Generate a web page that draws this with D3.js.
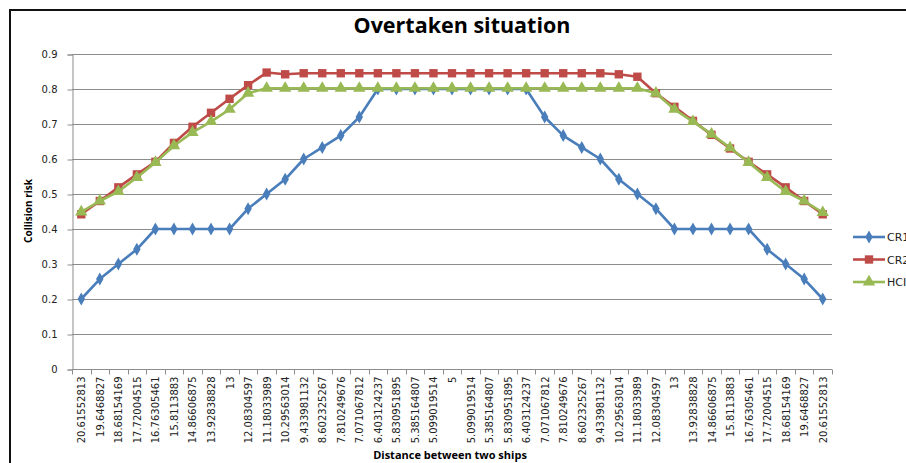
<!DOCTYPE html>
<html>
<head>
<meta charset="utf-8">
<script src="https://cdn.jsdelivr.net/npm/d3@7"></script>
<style>
body { margin: 0; background: #fff; }
svg { display: block; }
</style>
</head>
<body>
<script>
// distance labels (x axis), 41 categories
var distances = ["20.61552813","19.6468827","18.68154169","17.72004515","16.76305461","15.8113883",
	"14.86606875","13.92838828","13","12.08304597","11.18033989","10.29563014","9.433981132",
	"8.602325267","7.810249676","7.071067812","6.403124237","5.830951895","5.385164807","5.099019514",
	"5","5.099019514","5.385164807","5.830951895","6.403124237","7.071067812","7.810249676",
	"8.602325267","9.433981132","10.29563014","11.18033989","12.08304597","13","13.92838828",
	"14.86606875","15.8113883","16.76305461","17.72004515","18.68154169","19.6468827","20.61552813"];

var cr1 = [0.2,0.257,0.3,0.342,0.4,0.4,0.4,0.4,0.4,0.458,0.5,0.542,0.6,0.633,0.667,0.72,
	0.8,0.8,0.8,0.8,0.8,0.8,0.8,0.8,0.8,
	0.72,0.667,0.633,0.6,0.542,0.5,0.458,0.4,0.4,0.4,0.4,0.4,0.342,0.3,0.257,0.2];

var cr2 = [0.442,0.48,0.519,0.556,0.592,0.646,0.692,0.732,0.772,0.811,0.847,0.842,
	0.845,0.845,0.845,0.845,0.845,0.845,0.845,0.845,0.845,0.845,0.845,0.845,0.845,0.845,0.845,0.845,0.845,
	0.842,0.835,0.788,0.749,0.709,0.669,0.63,0.592,0.556,0.519,0.48,0.442];

var hci = [0.449,0.48,0.507,0.547,0.59,0.638,0.676,0.707,0.742,0.788,0.802,
	0.802,0.802,0.802,0.802,0.802,0.802,0.802,0.802,0.802,0.802,0.802,0.802,0.802,0.802,0.802,0.802,0.802,0.802,0.802,0.802,
	0.788,0.742,0.707,0.671,0.632,0.59,0.547,0.507,0.48,0.447];

var yTicks = [0,0.1,0.2,0.3,0.4,0.5,0.6,0.7,0.8,0.9];

var series = [
	{name:"CR1", values:cr1, color:"#4a7ebb", shape:d3.symbolDiamond, size:48},
	{name:"CR2", values:cr2, color:"#be4b48", shape:d3.symbolSquare, size:70},
	{name:"HCI", values:hci, color:"#98b954", shape:d3.symbolTriangle, size:66}
];

var W = 906, H = 463;
var plotLeft = 72, plotRight = 832, plotTop = 54, plotBottom = 369;

var svg = d3.select("body").append("svg")
	.attr("width", W)
	.attr("height", H);

svg.append("rect").attr("width", W).attr("height", H).attr("fill", "#fff");

// frame
svg.append("path")
	.attr("d", "M10," + H + "V10H" + W)
	.attr("fill", "none")
	.attr("stroke", "#111")
	.attr("stroke-width", 2);

var x = d3.scaleBand()
	.domain(d3.range(distances.length))
	.range([plotLeft, plotRight])
	.padding(0);

var y = d3.scaleLinear()
	.domain([0, 0.9])
	.range([plotBottom, plotTop]);

// gridlines
svg.append("g")
	.selectAll("line")
	.data(yTicks)
	.join("line")
	.attr("x1", plotLeft)
	.attr("x2", plotRight)
	.attr("y1", function(d){ return Math.round(y(d)) + 0.5; })
	.attr("y2", function(d){ return Math.round(y(d)) + 0.5; })
	.attr("stroke", "#8c8c8c")
	.attr("stroke-width", 1);

// y axis
var yAxis = svg.append("g")
	.attr("transform", "translate(" + (plotLeft + 0.5) + ",0.5)")
	.call(d3.axisLeft(y).tickValues(yTicks).tickSize(5).tickPadding(10)
		.tickFormat(function(d){ return d === 0 ? "0" : d3.format(".1f")(d); }));
yAxis.select(".domain").attr("stroke", "#8c8c8c");
yAxis.selectAll(".tick line").attr("stroke", "#8c8c8c");
yAxis.selectAll("text")
	.attr("font-family", "DejaVu Sans")
	.attr("font-size", 10)
	.attr("fill", "#222");

// x axis, ticks between categories
var xAxis = svg.append("g")
	.attr("transform", "translate(0," + (plotBottom + 0.5) + ")");
xAxis.append("line")
	.attr("x1", plotLeft).attr("x2", plotRight)
	.attr("stroke", "#8c8c8c");
xAxis.selectAll(".tk")
	.data(d3.range(distances.length + 1))
	.join("line")
	.attr("class", "tk")
	.attr("x1", function(i){ return Math.round(plotLeft + i * x.bandwidth()) + 0.5; })
	.attr("x2", function(i){ return Math.round(plotLeft + i * x.bandwidth()) + 0.5; })
	.attr("y1", 0)
	.attr("y2", 5)
	.attr("stroke", "#8c8c8c");
xAxis.selectAll("text")
	.data(distances)
	.join("text")
	.attr("transform", function(d, i){
		return "translate(" + (x(i) + x.bandwidth() / 2 + 4) + ",7) rotate(-90)";
	})
	.attr("text-anchor", "end")
	.attr("font-family", "DejaVu Sans")
	.attr("font-size", 10)
	.attr("fill", "#222")
	.text(function(d){ return d; });

// lines and markers
var line = d3.line()
	.x(function(d, i){ return x(i) + x.bandwidth() / 2; })
	.y(function(d){ return y(d); });

series.forEach(function(s){
	svg.append("path")
		.datum(s.values)
		.attr("d", line)
		.attr("fill", "none")
		.attr("stroke", s.color)
		.attr("stroke-width", 2.6)
		.attr("stroke-linejoin", "round");
	svg.append("g")
		.selectAll("path")
		.data(s.values)
		.join("path")
		.attr("transform", function(d, i){
			return "translate(" + (x(i) + x.bandwidth() / 2) + "," + y(d) + ")";
		})
		.attr("d", d3.symbol().type(s.shape).size(s.size))
		.attr("fill", s.color);
});

// title
svg.append("text")
	.attr("x", 462)
	.attr("y", 33)
	.attr("text-anchor", "middle")
	.attr("font-family", "Open Sans")
	.attr("font-weight", "bold")
	.attr("font-size", 21.5)
	.attr("fill", "#000")
	.text("Overtaken situation");

// axis titles
svg.append("text")
	.attr("x", 450)
	.attr("y", 459)
	.attr("text-anchor", "middle")
	.attr("font-family", "Open Sans")
	.attr("font-weight", "bold")
	.attr("font-size", 11)
	.attr("fill", "#000")
	.text("Distance between two ships");

svg.append("text")
	.attr("transform", "translate(32,211) rotate(-90)")
	.attr("text-anchor", "middle")
	.attr("font-family", "Open Sans")
	.attr("font-weight", "bold")
	.attr("font-size", 10)
	.attr("fill", "#000")
	.text("Collision risk");

// legend
var legend = svg.append("g")
	.selectAll("g")
	.data(series)
	.join("g")
	.attr("transform", function(d, i){ return "translate(853," + (237 + i * 22.5) + ")"; });
legend.append("line")
	.attr("x1", 0).attr("x2", 32)
	.attr("stroke", function(d){ return d.color; })
	.attr("stroke-width", 2.6);
legend.append("path")
	.attr("transform", "translate(16,0)")
	.attr("d", function(d){ return d3.symbol().type(d.shape).size(d.size)(); })
	.attr("fill", function(d){ return d.color; });
legend.append("text")
	.attr("x", 34)
	.attr("y", 4)
	.attr("font-family", "DejaVu Sans")
	.attr("font-size", 11)
	.attr("fill", "#222")
	.text(function(d){ return d.name; });
</script>
</body>
</html>
